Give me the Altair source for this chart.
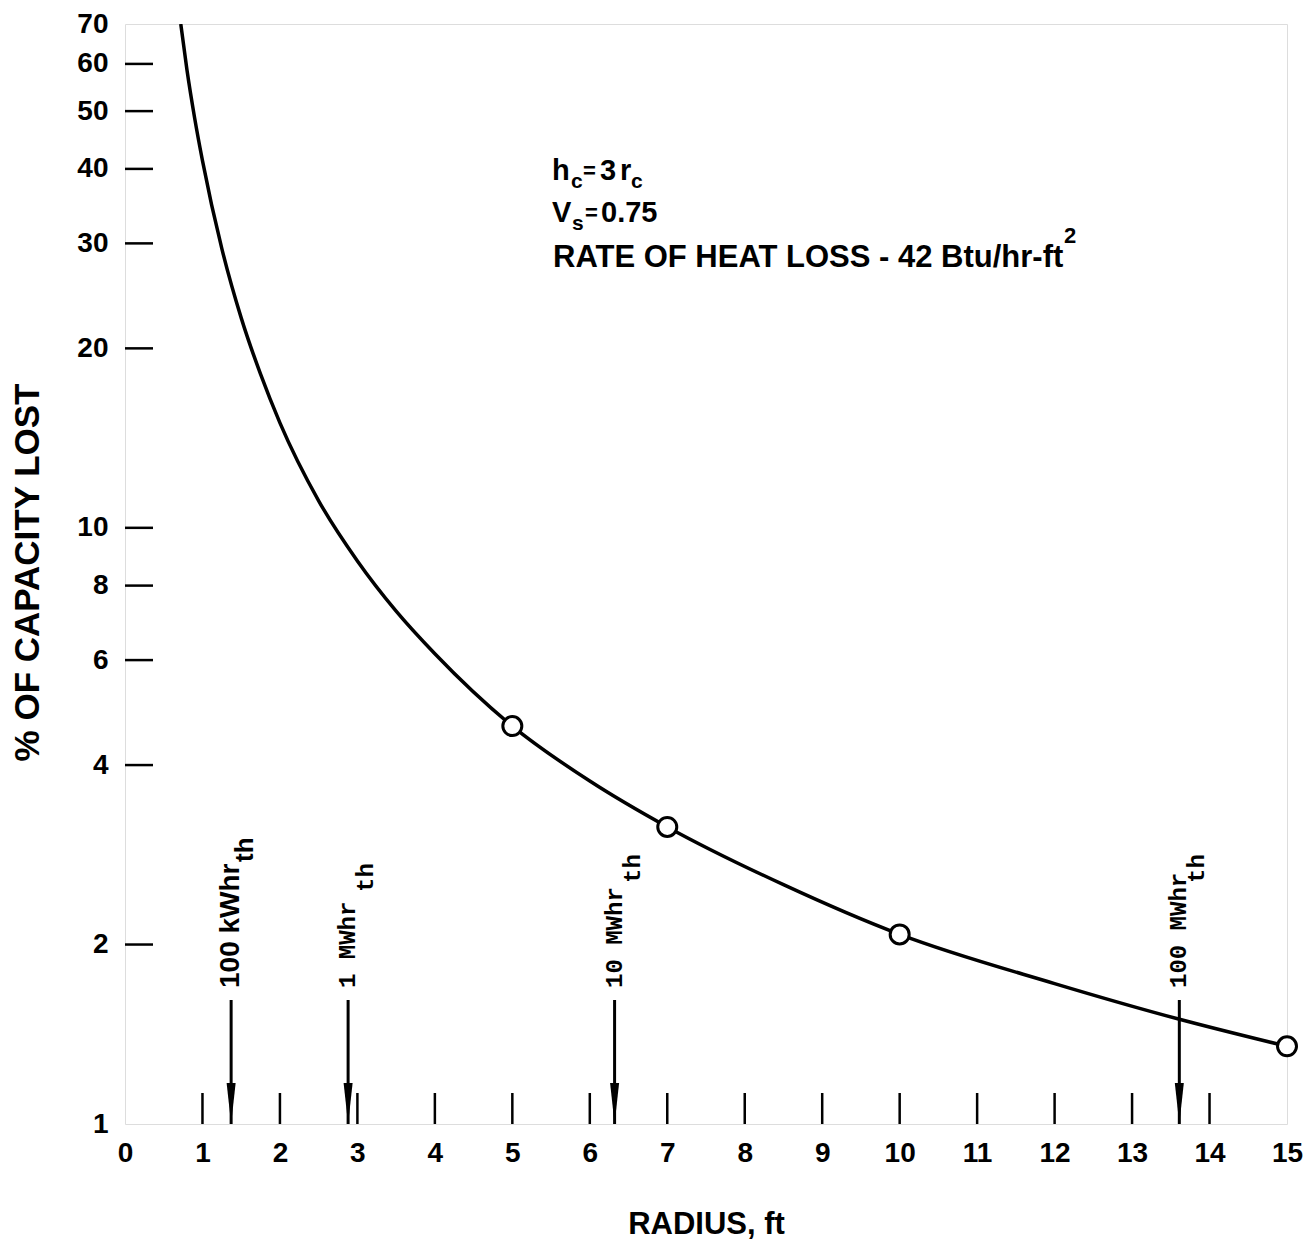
import altair as alt
import pandas as pd

# ---- data ----
radius = [0.72, 0.8, 0.9, 1.0, 1.25, 1.5, 1.75, 2.0, 2.5, 3.0, 3.5, 4.0, 5, 6, 7, 8.5, 10, 12, 13.6, 15]
pct_lost = [70, 58.6, 48.6, 41.3, 29.4, 22.5, 18.1, 15.0, 11.1, 8.8, 7.25, 6.15, 4.65, 3.76, 3.15,
            2.52, 2.08, 1.72, 1.50, 1.35]
marker_radius = [5, 7, 10, 15]
marker_pct = [4.65, 3.15, 2.08, 1.35]
arrow_radius = [1.37, 2.88, 6.32, 13.61]
arrow_main = ["100 kWhr", "1 MWhr", "10 MWhr", "100 MWhr"]
arrow_sub = ["th", "th", "th", "th"]
x_tick_labels = list(range(0, 16))
y_tick_labels = [1, 2, 4, 6, 8, 10, 20, 30, 40, 50, 60, 70]
x_inner_ticks = list(range(1, 15))
y_inner_ticks = [2, 4, 6, 8, 10, 20, 30, 40, 50, 60]

W, H = 1162, 1100
TOP = 16
SANS = "Liberation Sans"
MONO = "Liberation Mono"

curve_df = pd.DataFrame({"r": radius, "p": pct_lost})
marker_df = pd.DataFrame({"r": marker_radius, "p": marker_pct})
arrow_df = pd.DataFrame({"r": arrow_radius, "main": arrow_main, "sub": arrow_sub})
xt_df = pd.DataFrame({"r": x_inner_ticks})
yt_df = pd.DataFrame({"p": y_inner_ticks})

xs = alt.Scale(domain=[0, 15], nice=False, zero=False)
ys = alt.Scale(type="log", domain=[1, 70], nice=False)

x_axis = alt.Axis(values=x_tick_labels, labelExpr="datum.value", tickSize=0, domain=False,
                  grid=False, labelPadding=15, labelFontSize=28, labelFont=SANS,
                  labelFontWeight="bold", labelColor="black", labelFlush=False,
                  title="RADIUS, ft", titleFont=SANS, titleFontSize=31, titleFontWeight="bold",
                  titleColor="black", titleX=581, titleY=100, titleAlign="center",
                  titleBaseline="middle", titleAngle=0)
y_axis = alt.Axis(values=y_tick_labels, labelExpr="datum.value", tickSize=0, domain=False,
                  grid=False, labelPadding=17, labelFontSize=28, labelFont=SANS,
                  labelFontWeight="bold", labelColor="black", labelOverlap=False,
                  title="% OF CAPACITY LOST", titleFont=SANS, titleFontSize=35,
                  titleFontWeight="bold", titleColor="black", titleX=-98, titleY=548,
                  titleAngle=270, titleAlign="center", titleBaseline="middle")

curve = alt.Chart(curve_df).mark_line(color="black", strokeWidth=3.5, interpolate="monotone",
                                      clip=True).encode(
    x=alt.X("r:Q", scale=xs, axis=x_axis),
    y=alt.Y("p:Q", scale=ys, axis=y_axis),
)

markers = alt.Chart(marker_df).mark_point(shape="circle", filled=True, fill="white",
                                          stroke="black", strokeWidth=3, size=361,
                                          opacity=1).encode(
    x=alt.X("r:Q", scale=xs), y=alt.Y("p:Q", scale=ys))

xticks = alt.Chart(xt_df).mark_rule(color="black", strokeWidth=2.5).encode(
    x=alt.X("r:Q", scale=xs), y=alt.value(H), y2=alt.value(H - 31))

yticks = alt.Chart(yt_df).mark_rule(color="black", strokeWidth=2.5).encode(
    y=alt.Y("p:Q", scale=ys), x=alt.value(0), x2=alt.value(28))

bottom_px = 1124 - 8 - TOP  # plot-relative y of the x-axis
arrow_lines = alt.Chart(arrow_df).mark_rule(color="black", strokeWidth=3).encode(
    x=alt.X("r:Q", scale=xs), y=alt.value(bottom_px - 124), y2=alt.value(H))

arrow_heads = alt.Chart(arrow_df).mark_point(
    shape="M-0.22,-1L0.22,-1L0,1Z", filled=True, color="black", opacity=1, size=1681
).encode(x=alt.X("r:Q", scale=xs), y=alt.value(bottom_px - 20.5))

first = arrow_df.iloc[:1]
rest = arrow_df.iloc[1:]
lab_start = bottom_px - 136

lab_first = alt.Chart(first).mark_text(angle=270, align="left", baseline="middle",
                                       font=SANS, fontWeight="bold", fontSize=28,
                                       color="black").encode(
    x=alt.X("r:Q", scale=xs), y=alt.value(lab_start), text="main:N")
sub_first = alt.Chart(first).mark_text(angle=270, align="left", baseline="middle",
                                       font=SANS, fontWeight="bold", fontSize=26,
                                       color="black", dy=14).encode(
    x=alt.X("r:Q", scale=xs), y=alt.value(bottom_px - 262), text="sub:N")

lab_rest = alt.Chart(rest).mark_text(angle=270, align="left", baseline="middle",
                                     font=MONO, fontWeight="bold", fontSize=24,
                                     color="black").encode(
    x=alt.X("r:Q", scale=xs), y=alt.value(lab_start), text="main:N")

sub_rest_df = rest.assign(ystart=[bottom_px - 232, bottom_px - 241, bottom_px - 241])
sub_rest = alt.Chart(sub_rest_df).mark_text(angle=270, align="left", baseline="middle",
                                            font=MONO, fontWeight="bold", fontSize=24,
                                            color="black", dy=18).encode(
    x=alt.X("r:Q", scale=xs), y=alt.Y("ystart:Q", scale=None), text="sub:N")

# ---- annotation block (page-based positions converted to plot coords) ----
ann_rows = [
    # text, page x, page baseline y, size
    ("h", 552, 180, 29), ("c", 571, 188, 21), ("=", 583, 178, 22), ("3", 600, 180, 29),
    ("r", 620, 180, 29), ("c", 631, 188, 21),
    ("V", 552, 222, 29), ("s", 572, 230, 21), ("=", 585, 220, 22), ("0.75", 601, 222, 29),
    ("RATE OF HEAT LOSS - 42 Btu/hr-ft", 553, 267, 31), ("2", 1064, 243, 22),
]
ann_layers = []
for t, ax, ay, fs in ann_rows:
    ann_layers.append(
        alt.Chart(pd.DataFrame({"t": [t]})).mark_text(
            align="left", baseline="alphabetic", font=SANS, fontWeight="bold",
            fontSize=fs, color="black").encode(
            x=alt.value(ax - 125), y=alt.value(ay - 8 - TOP), text="t:N"))

chart = alt.layer(curve, xticks, yticks, arrow_lines, arrow_heads, markers,
                  lab_first, sub_first, lab_rest, sub_rest, *ann_layers).properties(
    width=W, height=H,
    autosize=alt.AutoSizeParams(type="none"),
    padding={"left": 117, "top": TOP, "right": 18, "bottom": 120},
).configure_view(stroke="black", strokeWidth=3).configure(background="white")

chart.save("out.html", embed_options={"renderer": "svg", "actions": False})
